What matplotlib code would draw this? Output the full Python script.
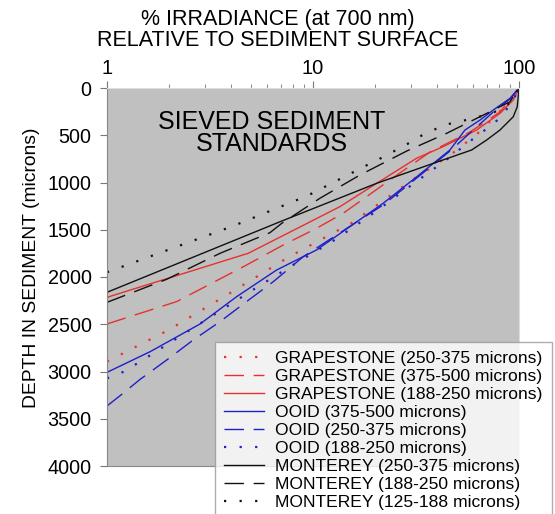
import matplotlib
matplotlib.use('Agg')
import matplotlib.pyplot as plt

plt.rcParams['font.family'] = ['Liberation Sans', 'DejaVu Sans']

# % irradiance (x) and depth in microns (y) for each sieved standard
grape_250_x = [1, 1.99, 3.84, 7.67, 15.5, 30.7, 47.1, 62.3, 78.5, 93.5, 100]
grape_250_y = [2895, 2561, 2187, 1785, 1425, 966, 698, 490, 278, 92, 0]

grape_375_x = [1, 2.18, 3.04, 4.76, 7.18, 10.4, 14.0, 18.2, 23.6, 37.0, 57.8, 80.9, 100]
grape_375_y = [2497, 2260, 2095, 1873, 1661, 1485, 1326, 1150, 974, 677, 466, 254, 0]

grape_188_x = [1, 4.85, 13.5, 20.4, 31.8, 42.9, 62.3, 80.9, 93.8, 100]
grape_188_y = [2215, 1749, 1256, 1008, 744, 620, 444, 268, 127, 0]

ooid_375_x = [1, 1.62, 2.83, 4.26, 6.66, 10.4, 15.1, 21.9, 31.9, 46.2, 54.7, 64.7, 75.0, 90.4, 100]
ooid_375_y = [3009, 2790, 2497, 2208, 1926, 1714, 1467, 1220, 939, 656, 444, 339, 233, 109, 0]

ooid_250_x = [1, 1.16, 1.45, 1.95, 2.62, 3.54, 4.76, 6.42, 8.97, 14.6, 21.9, 31.9, 46.2, 57.8, 75.0, 90.4, 100]
ooid_250_y = [3365, 3254, 3082, 2878, 2667, 2472, 2260, 2049, 1785, 1485, 1238, 952, 667, 476, 254, 116, 0]

ooid_188_x = [1, 1.21, 1.60, 2.44, 3.70, 5.64, 8.51, 12.9, 19.6, 29.8, 45.4, 58.9, 76.4, 92.2, 100]
ooid_188_y = [3072, 3001, 2836, 2582, 2331, 2077, 1837, 1601, 1326, 1034, 744, 550, 367, 162, 0]

mont_250_x = [1, 6.92, 20.4, 38.4, 58.9, 69.7, 80.9, 93.8, 98.1, 100]
mont_250_y = [2162, 1415, 1008, 797, 656, 550, 444, 304, 198, 0]

mont_188_x = [1, 1.95, 3.54, 6.18, 7.05, 10.8, 16.9, 28.5, 44.6, 72.3, 90.4, 100]
mont_188_y = [2268, 2024, 1749, 1531, 1432, 1167, 921, 667, 479, 251, 145, 0]

mont_125_x = [1, 4.1, 9.4, 18.9, 21.8, 28.7, 32.8, 43.3, 57.4, 66, 76, 88, 100]
mont_125_y = [1950, 1460, 1140, 800, 733, 593, 515, 392, 331, 296, 254, 180, 0]

labels = ['GRAPESTONE (250-375 microns)', 'GRAPESTONE (375-500 microns)',
          'GRAPESTONE (188-250 microns)', 'OOID (375-500 microns)',
          'OOID (250-375 microns)', 'OOID (188-250 microns)',
          'MONTEREY (250-375 microns)', 'MONTEREY (188-250 microns)',
          'MONTEREY (125-188 microns)']

red = '#e8302c'
blue = '#1f1fc8'
black = '#111111'
dotted = (0, (1, 6))
dashed = (0, (14, 7))

series = [
    (grape_250_x, grape_250_y, red, dotted, 1.6),
    (grape_375_x, grape_375_y, red, dashed, 1.0),
    (grape_188_x, grape_188_y, red, '-', 1.0),
    (ooid_375_x, ooid_375_y, blue, '-', 1.0),
    (ooid_250_x, ooid_250_y, blue, dashed, 1.0),
    (ooid_188_x, ooid_188_y, blue, dotted, 1.6),
    (mont_250_x, mont_250_y, black, '-', 1.0),
    (mont_188_x, mont_188_y, black, dashed, 1.0),
    (mont_125_x, mont_125_y, black, dotted, 1.6),
]

fig = plt.figure(figsize=(5.55, 5.14), dpi=100)
ax = fig.add_axes([107 / 555, 1 - 466 / 514, 412 / 555, 378 / 514])
ax.set_facecolor('#c0c0c0')

for (xs, ys, c, ls, lw), lab in zip(series, labels):
    ax.plot(xs, ys, color=c, linestyle=ls, linewidth=lw, label=lab)

ax.set_xscale('log')
ax.set_xlim(1, 100)
ax.set_ylim(4000, 0)
ax.set_yticks(range(0, 4001, 500))
ax.xaxis.tick_top()
ax.set_xticks([1, 10, 100])
ax.set_xticklabels(['1', '10', '100'])
ax.tick_params(axis='x', which='major', labelsize=14.5, length=5, pad=2, color='#777777')
ax.tick_params(axis='x', which='minor', length=3, color='#777777')
ax.tick_params(axis='y', labelsize=14.2, length=5, pad=6, color='#777777')
for s in ax.spines.values():
    s.set_color('#888888')
ax.spines['right'].set_color('#dddddd')
ax.spines['top'].set_color('#dddddd')

ax.set_ylabel('DEPTH IN SEDIMENT (microns)', fontsize=13.9)
ax.yaxis.set_label_coords(-0.163, 0.524)

ax.text(6.3, 476, 'SIEVED SEDIMENT\nSTANDARDS', fontsize=18, ha='center',
        va='center', linespacing=0.85)

fig.text(0.5, 1 - 19 / 514, '% IRRADIANCE (at 700 nm)', fontsize=15.5,
         ha='center', va='center')
fig.text(0.5, 1 - 41 / 514, 'RELATIVE TO SEDIMENT SURFACE', fontsize=15.5,
         ha='center', va='center')

leg = fig.legend(loc='upper left', bbox_to_anchor=(215 / 555, 1 - 342 / 514),
                 fontsize=12.6, frameon=True, fancybox=False, handlelength=2.3,
                 labelspacing=0.16, borderpad=0.5, handletextpad=0.65,
                 borderaxespad=0)
leg.get_frame().set_edgecolor('#999999')
leg.get_frame().set_linewidth(1.0)

fig.savefig('out.png', dpi=100)
